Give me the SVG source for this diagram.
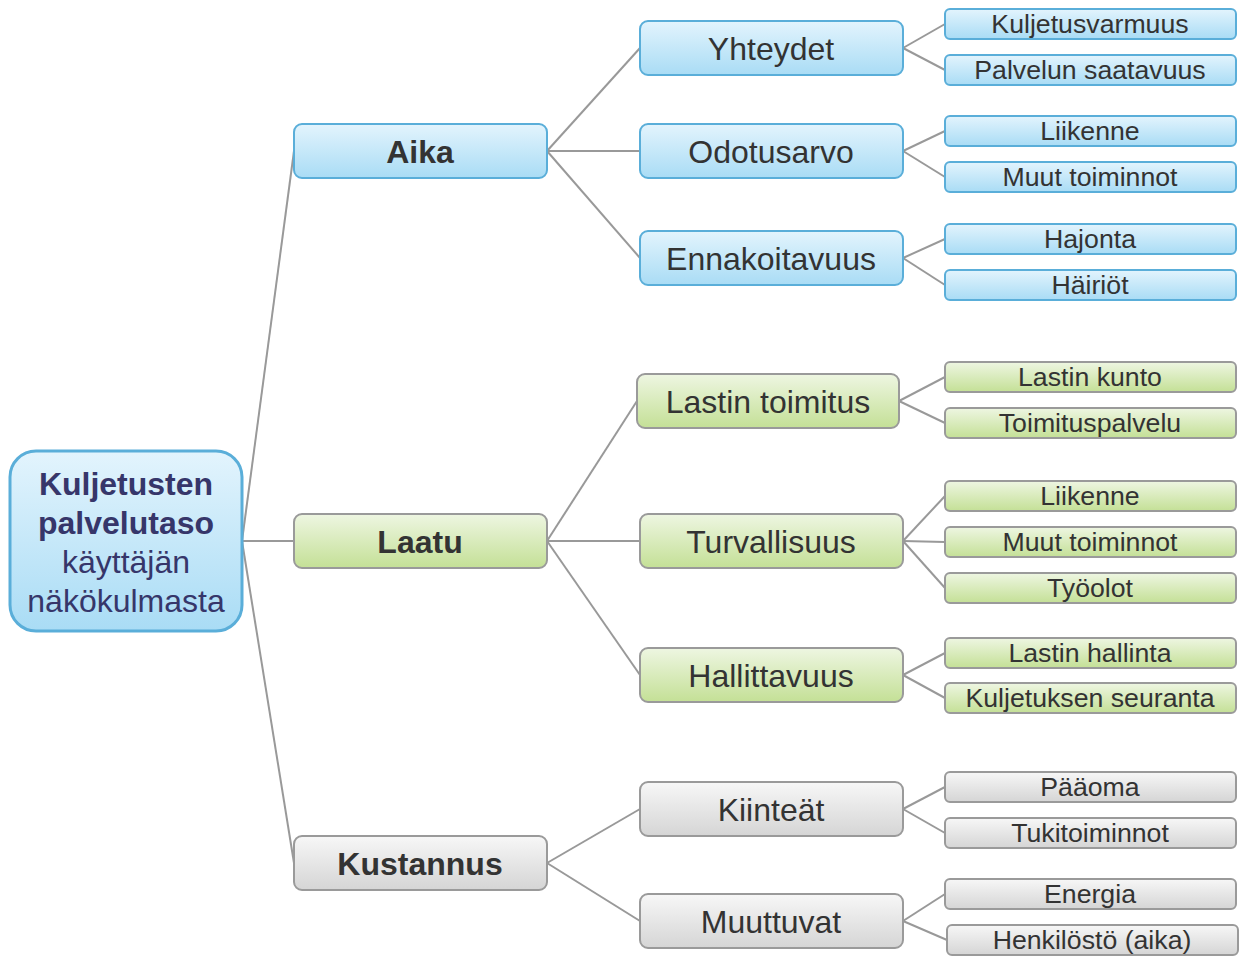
<svg xmlns="http://www.w3.org/2000/svg" width="1249" height="967" viewBox="0 0 1249 967">
<defs>
<linearGradient id="gb" x1="0" y1="0" x2="0" y2="1"><stop offset="0" stop-color="#e3f4fd"/><stop offset="1" stop-color="#a9dcf5"/></linearGradient>
<linearGradient id="gg" x1="0" y1="0" x2="0" y2="1"><stop offset="0" stop-color="#eef6e2"/><stop offset="1" stop-color="#c4e096"/></linearGradient>
<linearGradient id="gy" x1="0" y1="0" x2="0" y2="1"><stop offset="0" stop-color="#f7f7f7"/><stop offset="1" stop-color="#d5d5d5"/></linearGradient>
</defs>
<style>
.b rect{fill:url(#gb);stroke:#5aaed9;stroke-width:2}
.g rect{fill:url(#gg);stroke:#9a9a9a;stroke-width:2}
.y rect{fill:url(#gy);stroke:#9a9a9a;stroke-width:2}
text{font-family:"Liberation Sans",Arial,sans-serif;fill:#333;text-anchor:middle}
.l1{font-size:32px;font-weight:bold}
.l2{font-size:32px}
.l3{font-size:26.7px}
.root text{fill:#36366a;font-size:32px}
#connectors line{stroke:#999;stroke-width:2}
</style>
<rect width="1249" height="967" fill="#fff"/>
<g id="connectors">
<line x1="242" y1="541" x2="294" y2="151"/>
<line x1="242" y1="541" x2="294" y2="541"/>
<line x1="242" y1="541" x2="294" y2="863"/>
<line x1="547" y1="151" x2="640" y2="48"/>
<line x1="547" y1="151" x2="640" y2="151"/>
<line x1="547" y1="151" x2="640" y2="258"/>
<line x1="547" y1="541" x2="637" y2="401"/>
<line x1="547" y1="541" x2="640" y2="541"/>
<line x1="547" y1="541" x2="640" y2="675"/>
<line x1="547" y1="863" x2="640" y2="809"/>
<line x1="547" y1="863" x2="640" y2="921"/>
<line x1="903" y1="48" x2="945" y2="24"/>
<line x1="903" y1="48" x2="945" y2="70"/>
<line x1="903" y1="151" x2="945" y2="131"/>
<line x1="903" y1="151" x2="945" y2="177"/>
<line x1="903" y1="258" x2="945" y2="239"/>
<line x1="903" y1="258" x2="945" y2="285"/>
<line x1="899" y1="401" x2="945" y2="377"/>
<line x1="899" y1="401" x2="945" y2="423"/>
<line x1="903" y1="541" x2="945" y2="496"/>
<line x1="903" y1="541" x2="945" y2="542"/>
<line x1="903" y1="541" x2="945" y2="588"/>
<line x1="903" y1="675" x2="945" y2="653"/>
<line x1="903" y1="675" x2="945" y2="698"/>
<line x1="903" y1="809" x2="945" y2="787"/>
<line x1="903" y1="809" x2="945" y2="833"/>
<line x1="903" y1="921" x2="945" y2="894"/>
<line x1="903" y1="921" x2="947" y2="940"/>
</g>
<g id="root" class="root">
<rect x="10" y="451" width="232" height="180" rx="26" fill="url(#gb)" stroke="#5aaed9" stroke-width="3"/>
<text x="126" y="495" font-weight="bold">Kuljetusten</text>
<text x="126" y="534" font-weight="bold">palvelutaso</text>
<text x="126" y="573">käyttäjän</text>
<text x="126" y="612">näkökulmasta</text>
</g>
<g id="aika" class="b"><rect x="294" y="124" width="253" height="54" rx="8"/><text class="l1" x="420" y="163">Aika</text></g>
<g id="laatu" class="g"><rect x="294" y="514" width="253" height="54" rx="8"/><text class="l1" x="420" y="553">Laatu</text></g>
<g id="kustannus" class="y"><rect x="294" y="836" width="253" height="54" rx="8"/><text class="l1" x="420" y="875">Kustannus</text></g>

<g id="yhteydet" class="b"><rect x="640" y="21" width="263" height="54" rx="8"/><text class="l2" x="771" y="60">Yhteydet</text></g>
<g id="odotusarvo" class="b"><rect x="640" y="124" width="263" height="54" rx="8"/><text class="l2" x="771" y="163">Odotusarvo</text></g>
<g id="ennakoitavuus" class="b"><rect x="640" y="231" width="263" height="54" rx="8"/><text class="l2" x="771" y="270">Ennakoitavuus</text></g>
<g id="lastin-toimitus" class="g"><rect x="637" y="374" width="262" height="54" rx="8"/><text class="l2" x="768" y="413">Lastin toimitus</text></g>
<g id="turvallisuus" class="g"><rect x="640" y="514" width="263" height="54" rx="8"/><text class="l2" x="771" y="553">Turvallisuus</text></g>
<g id="hallittavuus" class="g"><rect x="640" y="648" width="263" height="54" rx="8"/><text class="l2" x="771" y="687">Hallittavuus</text></g>
<g id="kiinteat" class="y"><rect x="640" y="782" width="263" height="54" rx="8"/><text class="l2" x="771" y="821">Kiinteät</text></g>
<g id="muuttuvat" class="y"><rect x="640" y="894" width="263" height="54" rx="8"/><text class="l2" x="771" y="933">Muuttuvat</text></g>

<g id="kuljetusvarmuus" class="b"><rect x="945" y="9" width="291" height="30" rx="5"/><text class="l3" x="1090" y="33">Kuljetusvarmuus</text></g>
<g id="palvelun-saatavuus" class="b"><rect x="945" y="55" width="291" height="30" rx="5"/><text class="l3" x="1090" y="79">Palvelun saatavuus</text></g>
<g id="liikenne-a" class="b"><rect x="945" y="116" width="291" height="30" rx="5"/><text class="l3" x="1090" y="140">Liikenne</text></g>
<g id="muut-a" class="b"><rect x="945" y="162" width="291" height="30" rx="5"/><text class="l3" x="1090" y="186">Muut toiminnot</text></g>
<g id="hajonta" class="b"><rect x="945" y="224" width="291" height="30" rx="5"/><text class="l3" x="1090" y="248">Hajonta</text></g>
<g id="hairiot" class="b"><rect x="945" y="270" width="291" height="30" rx="5"/><text class="l3" x="1090" y="294">Häiriöt</text></g>
<g id="lastin-kunto" class="g"><rect x="945" y="362" width="291" height="30" rx="5"/><text class="l3" x="1090" y="386">Lastin kunto</text></g>
<g id="toimituspalvelu" class="g"><rect x="945" y="408" width="291" height="30" rx="5"/><text class="l3" x="1090" y="432">Toimituspalvelu</text></g>
<g id="liikenne-l" class="g"><rect x="945" y="481" width="291" height="30" rx="5"/><text class="l3" x="1090" y="505">Liikenne</text></g>
<g id="muut-l" class="g"><rect x="945" y="527" width="291" height="30" rx="5"/><text class="l3" x="1090" y="551">Muut toiminnot</text></g>
<g id="tyoolot" class="g"><rect x="945" y="573" width="291" height="30" rx="5"/><text class="l3" x="1090" y="597">Työolot</text></g>
<g id="lastin-hallinta" class="g"><rect x="945" y="638" width="291" height="30" rx="5"/><text class="l3" x="1090" y="662">Lastin hallinta</text></g>
<g id="kuljetuksen-seuranta" class="g"><rect x="945" y="683" width="291" height="30" rx="5"/><text class="l3" x="1090" y="707">Kuljetuksen seuranta</text></g>
<g id="paaoma" class="y"><rect x="945" y="772" width="291" height="30" rx="5"/><text class="l3" x="1090" y="796">Pääoma</text></g>
<g id="tukitoiminnot" class="y"><rect x="945" y="818" width="291" height="30" rx="5"/><text class="l3" x="1090" y="842">Tukitoiminnot</text></g>
<g id="energia" class="y"><rect x="945" y="879" width="291" height="30" rx="5"/><text class="l3" x="1090" y="903">Energia</text></g>
<g id="henkilosto" class="y"><rect x="947" y="925" width="291" height="30" rx="5"/><text class="l3" x="1092" y="949">Henkilöstö (aika)</text></g>
</svg>
